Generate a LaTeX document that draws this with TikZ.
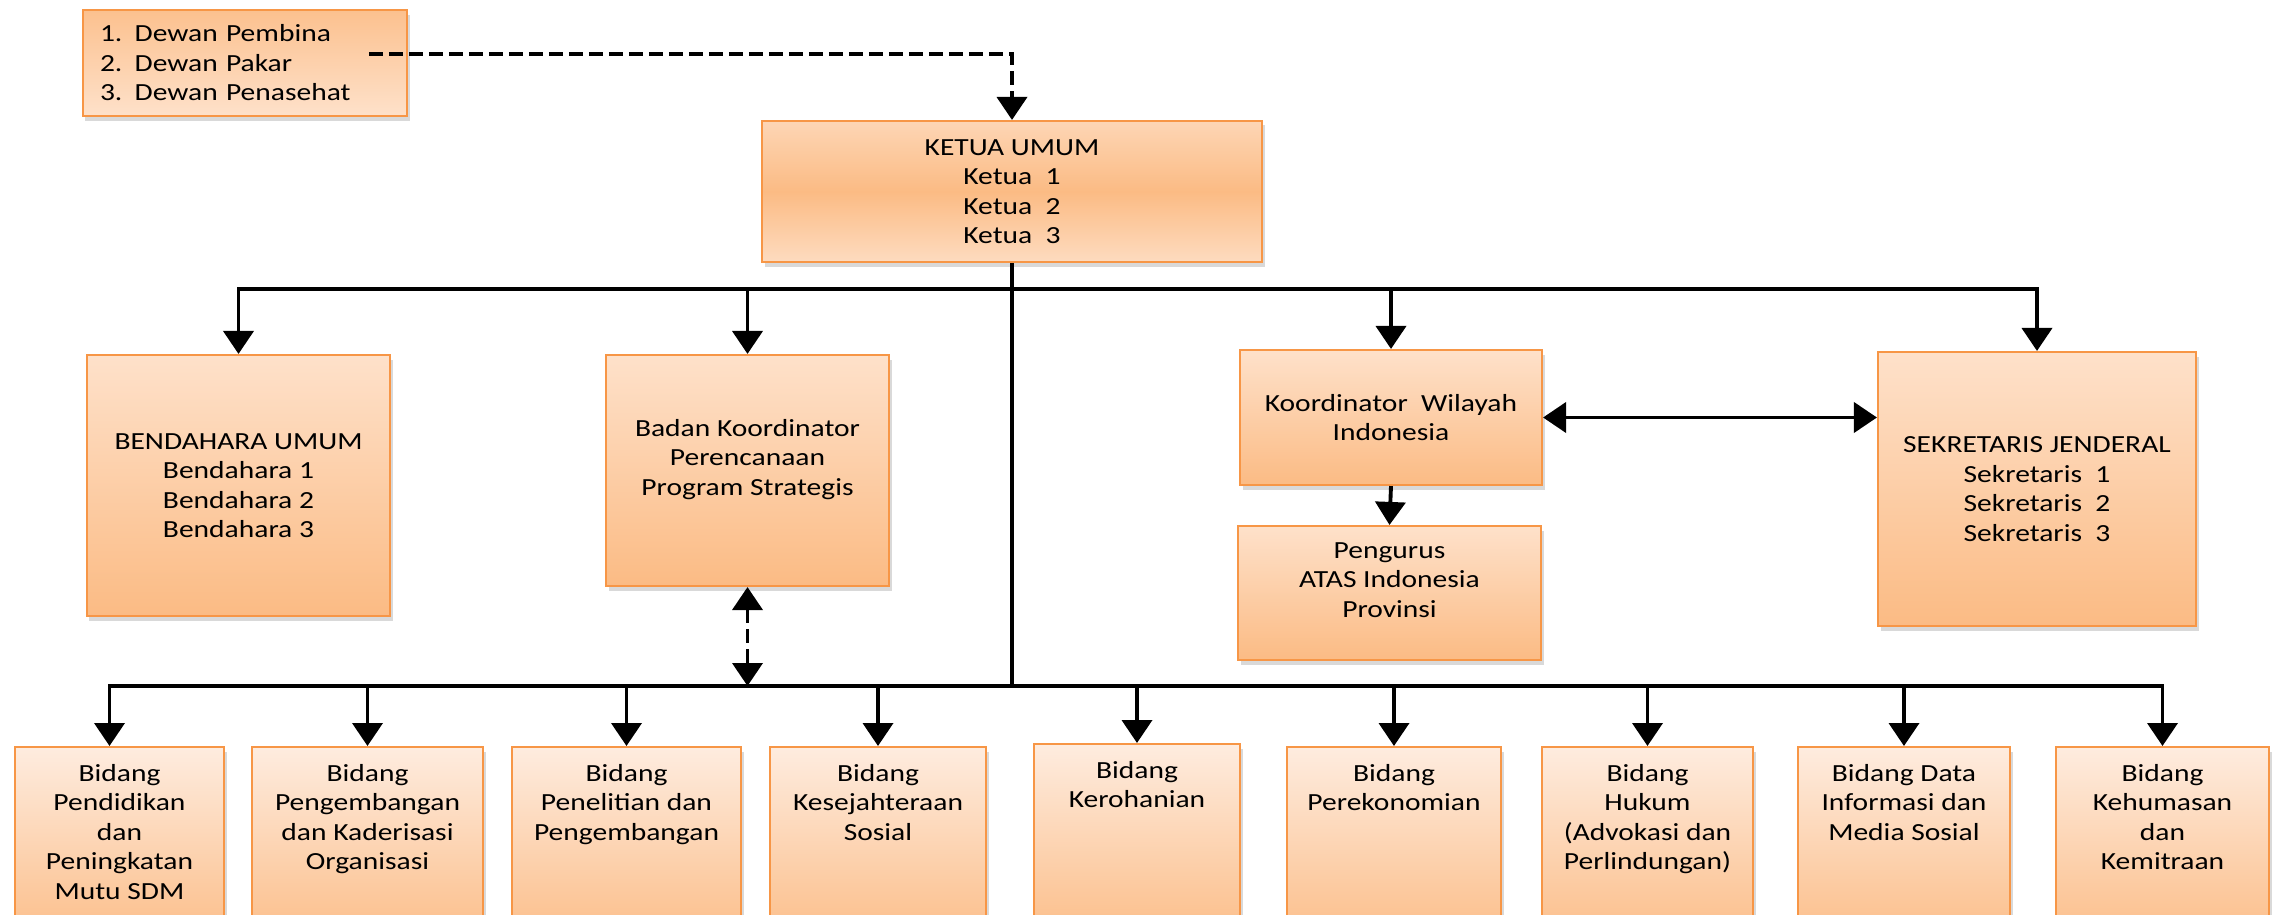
\documentclass[tikz,border=0pt]{standalone}
\usepackage{fontspec}
\setmainfont{Carlito}[FakeStretch=1.2]
\usepackage{tikz}
\usetikzlibrary{arrows.meta,shapes,positioning,shadows}
\definecolor{oranye}{HTML}{F79646}
\definecolor{peach}{HTML}{FEE1CA}
\definecolor{peachdark}{HTML}{FBBB84}
\definecolor{peachpale}{HTML}{FEECDF}
\newcommand{\toptext}[1]{\parbox[t][1.7cm][t]{2cm}{\centering #1}}
\tikzset{
    kotak/.style={
                draw=oranye,
                line width=0.6pt,
                top color=peach,
                bottom color=peachdark,
                align=center,
                inner sep=2pt,
                drop shadow={shadow xshift=0.025cm,shadow yshift=-0.045cm,opacity=0.3}
            },
        dewanbox/.style={
                kotak,
                top color=peachdark!85!peach,
                bottom color=peach,
                align=left,
                text width=2.9cm,
                inner xsep=0.17cm
            },
        ketuabox/.style={
                kotak,
                top color=peach!70!peachdark,
                bottom color=peach!85!peachdark,
                middle color=peachdark
            },
        bidang/.style={
                kotak,
                top color=peachpale,
                bottom color=peachdark,
                anchor=north,
                inner xsep=0pt,
                inner ysep=0.17cm
            },
        naik/.style={text depth=7.5pt},
        garis/.style={line width=1.1pt},
        panah/.style={garis,->},
        putus/.style={garis,dash pattern=on 0.14cm off 0.06cm},
}

\begin{document}
\begin{tikzpicture}[
    font=\fontsize{7pt}{8.4pt}\selectfont,
    >={Triangle[length=0.23cm,width=0.3cm]},
  ]
  \useasboundingbox (0,0) rectangle (22.79,-9.15);
  \clip (0,0) rectangle (22.79,-9.15);
  % Dewan dan Ketua
  \node[dewanbox,minimum height=1.06cm] (dewan) at (2.45,-0.63)
    {1. Dewan Pembina\\2. Dewan Pakar\\3. Dewan Penasehat};
  \node[ketuabox,minimum width=5cm,minimum height=1.41cm] (ketua) at (10.12,-1.915)
    {KETUA UMUM\\Ketua~ 1\\Ketua~ 2\\Ketua~ 3};
  % Baris tengah
  \node[kotak,minimum width=3.03cm,minimum height=2.61cm] (bendahara) at (2.385,-4.855)
    {BENDAHARA UMUM\\Bendahara 1\\Bendahara 2\\Bendahara 3};
  \node[kotak,naik,minimum width=2.83cm,minimum height=2.31cm] (badan) at (7.475,-4.705)
    {Badan Koordinator\\Perencanaan\\Program Strategis};
  \node[kotak,minimum width=3.02cm,minimum height=1.35cm] (korwil) at (13.91,-4.175)
    {Koordinator~ Wilayah\\Indonesia};
  \node[kotak,naik,minimum width=3.03cm,minimum height=1.34cm] (pengurus) at (13.895,-5.93)
    {Pengurus\\ATAS Indonesia\\Provinsi};
  \node[kotak,minimum width=3.18cm,minimum height=2.74cm] (sekjen) at (20.37,-4.89)
    {SEKRETARIS JENDERAL\\Sekretaris~ 1\\Sekretaris~ 2\\Sekretaris~ 3};
  % Bidang
  \node[bidang,minimum width=2.09cm] (bid1) at (1.195,-7.46)
    {\toptext{Bidang\\Pendidikan\\dan\\Peningkatan\\Mutu SDM}};
  \node[bidang,minimum width=2.31cm] (bid2) at (3.675,-7.46)
    {\toptext{Bidang\\Pengembangan\\dan Kaderisasi\\Organisasi}};
  \node[bidang,minimum width=2.29cm] (bid3) at (6.265,-7.46)
    {\toptext{Bidang\\Penelitian dan\\Pengembangan}};
  \node[bidang,minimum width=2.16cm] (bid4) at (8.78,-7.46)
    {\toptext{Bidang\\Kesejahteraan\\Sosial}};
  \node[bidang,minimum width=2.06cm] (bid5) at (11.37,-7.43)
    {\toptext{Bidang\\Kerohanian}};
  \node[bidang,minimum width=2.14cm] (bid6) at (13.94,-7.46)
    {\toptext{Bidang\\Perekonomian}};
  \node[bidang,minimum width=2.11cm] (bid7) at (16.475,-7.46)
    {\toptext{Bidang\\Hukum\\(Advokasi dan\\Perlindungan)}};
  \node[bidang,minimum width=2.12cm] (bid8) at (19.04,-7.46)
    {\toptext{Bidang Data\\Informasi dan\\Media Sosial}};
  \node[bidang,minimum width=2.13cm] (bid9) at (21.625,-7.46)
    {\toptext{Bidang\\Kehumasan\\dan\\Kemitraan}};
  % Garis
  \coordinate (dewanout) at ([xshift=-0.39cm,yshift=0.09cm]dewan.east);
  \coordinate (busatas) at ([yshift=-0.26cm]ketua.south);
  \coordinate (busbawah) at (ketua.south |- 0,-6.86);
  \draw[putus,->] (dewanout) -| (ketua.north);
  \draw[garis] (ketua.south) -- (busbawah);
  \draw[panah] (busatas) -| (bendahara.north);
  \draw[panah] (busatas) -| (badan.north);
  \draw[panah] (busatas) -| (korwil.north);
  \draw[panah] (busatas) -| (sekjen.north);
  \draw[panah] (korwil.south) -- (pengurus.north);
  \draw[garis,<->] (korwil.east) -- (korwil.east -| sekjen.west);
  \draw[putus,<->] (badan.south) -- (badan.south |- busbawah);
  \draw[panah] (busbawah) -| ([xshift=-0.1cm]bid1.north);
  \draw[panah] (busbawah) -| (bid2.north);
  \draw[panah] (busbawah) -| (bid3.north);
  \draw[panah] (busbawah) -| (bid4.north);
  \draw[panah] (busbawah) -| (bid5.north);
  \draw[panah] (busbawah) -| (bid6.north);
  \draw[panah] (busbawah) -| (bid7.north);
  \draw[panah] (busbawah) -| (bid8.north);
  \draw[panah] (busbawah) -| (bid9.north);
\end{tikzpicture}
\end{document}
